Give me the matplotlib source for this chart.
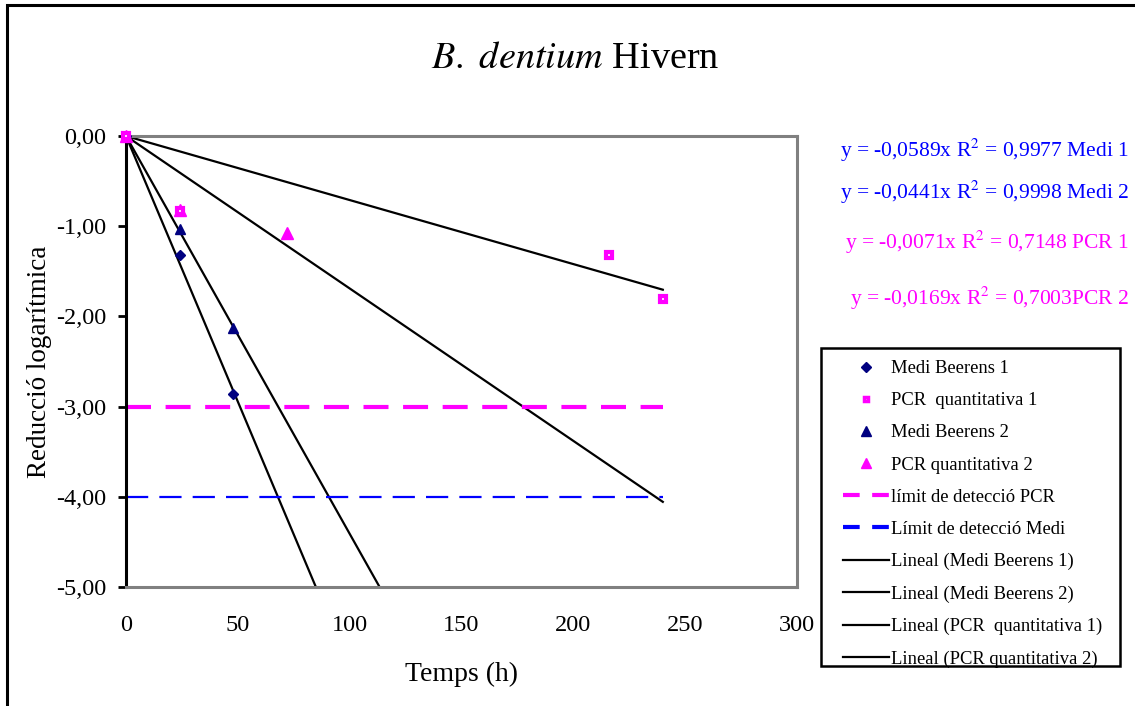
import matplotlib
matplotlib.use("Agg")
import matplotlib.pyplot as plt
import numpy as np
from matplotlib.lines import Line2D
from matplotlib.patches import Rectangle
from matplotlib.ticker import FuncFormatter, MultipleLocator

plt.rcParams['font.family'] = ['Liberation Serif', 'DejaVu Serif']

# Measured log reductions over time (h)
t_medi1 = [0, 24, 48]
y_medi1 = [0.0, -1.32, -2.86]
t_pcr1 = [0, 24, 216, 240]
y_pcr1 = [0.0, -0.83, -1.32, -1.81]
t_medi2 = [0, 24, 48]
y_medi2 = [0.0, -1.03, -2.13]
t_pcr2 = [0, 24, 72]
y_pcr2 = [0.0, -0.82, -1.07]

# Linear fits through the origin
slopes = [-0.0589, -0.0441, -0.0071, -0.0169]
r2 = [0.9977, 0.9998, 0.7148, 0.7003]
fit_tags = ["Medi 1", "Medi 2", "PCR 1", "PCR 2"]
fit_end = 240

# Detection limits
limit_pcr = -3.0
limit_medi = -4.0

navy = "#000080"
magenta = "#FF00FF"
blue = "#0000FF"

fig = plt.figure(figsize=(11.35, 7.06), dpi=100)
ax = fig.add_axes([126/1135, 1-587/706, (797-126)/1135, (587-136)/706])

xfit = np.array([0, fit_end])
for s in slopes:
    ax.plot(xfit, s*xfit, color="black", lw=1.6, zorder=2)

ax.plot([0, fit_end], [limit_pcr, limit_pcr], color=magenta, lw=3, dashes=(6, 3.5), zorder=2)
ax.plot([0, fit_end], [limit_medi, limit_medi], color=blue, lw=1.6, dashes=(10, 5), zorder=2)

ax.plot(t_medi1, y_medi1, ls="none", marker="D", ms=5.5, color=navy, clip_on=False, zorder=4)
ax.plot(t_medi2, y_medi2, ls="none", marker="^", ms=7, color=navy, clip_on=False, zorder=4)
ax.plot(t_pcr2, y_pcr2, ls="none", marker="^", ms=8, color=magenta, clip_on=False, zorder=4)
ax.plot(t_pcr1, y_pcr1, ls="none", marker="s", ms=4.5, mfc="white", mec=magenta, mew=3,
        clip_on=False, zorder=5)

ax.set_xlim(0, 300)
ax.set_ylim(-5, 0)
ax.xaxis.set_major_locator(MultipleLocator(50))
ax.yaxis.set_major_locator(MultipleLocator(1))
ax.yaxis.set_major_formatter(FuncFormatter(lambda v, p: f"{v:.2f}".replace(".", ",")))
ax.tick_params(axis="x", length=0, pad=20, labelsize=17.5)
ax.tick_params(axis="y", length=6, width=2, direction="out", pad=8, labelsize=17.5)

for side in ["top", "right", "bottom"]:
    ax.spines[side].set_color("#808080")
    ax.spines[side].set_linewidth(2.2)
ax.spines["left"].set_color("black")
ax.spines["left"].set_linewidth(2.2)

ax.set_xlabel("Temps (h)", fontsize=20, labelpad=19)
ax.set_ylabel("Reducció logarítmica", fontsize=19.5, labelpad=3)

fig.text(575/1135, 1-59/706, r"$\it{B.\ dentium}$ Hivern", fontsize=27.5, ha="center", va="center",
         math_fontfamily="stix")

# Fit equations
eq_colors = [blue, blue, magenta, magenta]
eq_y = [150, 192, 242, 298]
sep = [" ", " ", " ", ""]
for s, r, tag, c, yy, sp in zip(slopes, r2, fit_tags, eq_colors, eq_y, sep):
    txt = (f"y = {s:.4f}x R$^2$ = {r:.4f}".replace(".", ",")) + sp + tag
    fig.text(1129/1135, 1-yy/706, txt, color=c, fontsize=15.5, ha="right", va="center",
             math_fontfamily="stix")

handles = [
    Line2D([], [], ls="none", marker="D", ms=5, color=navy),
    Line2D([], [], ls="none", marker="s", ms=3.5, mfc="white", mec=magenta, mew=2.5),
    Line2D([], [], ls="none", marker="^", ms=6.5, color=navy),
    Line2D([], [], ls="none", marker="^", ms=6.5, color=magenta),
    Line2D([], [], color=magenta, lw=3, dashes=(4, 3)),
    Line2D([], [], color=blue, lw=3, dashes=(4, 3)),
    Line2D([], [], color="black", lw=1.6),
    Line2D([], [], color="black", lw=1.6),
    Line2D([], [], color="black", lw=1.6),
    Line2D([], [], color="black", lw=1.6),
]
labels = ["Medi Beerens 1", "PCR  quantitativa 1", "Medi Beerens 2", "PCR quantitativa 2",
          "límit de detecció PCR", "Límit de detecció Medi", "Lineal (Medi Beerens 1)",
          "Lineal (Medi Beerens 2)", "Lineal (PCR  quantitativa 1)", "Lineal (PCR quantitativa 2)"]
leg = fig.legend(handles, labels, loc="upper left", bbox_to_anchor=(843/1135, 1-360/706),
                 frameon=False, fontsize=13.4, labelspacing=0.815,
                 handlelength=2.45, handletextpad=0.15, borderpad=0, borderaxespad=0)

# Legend box
fig.add_artist(Rectangle((821/1135, 1-666/706), (1120-821)/1135, (666-348)/706,
                         transform=fig.transFigure, fill=False, edgecolor="black", lw=1.8))

# Outer chart frame
fig.add_artist(Rectangle((7/1135, -0.1), 1.2, 1-5/706+0.1, transform=fig.transFigure,
                         fill=False, edgecolor="black", lw=2.2))

fig.savefig("out.png", dpi=100)
